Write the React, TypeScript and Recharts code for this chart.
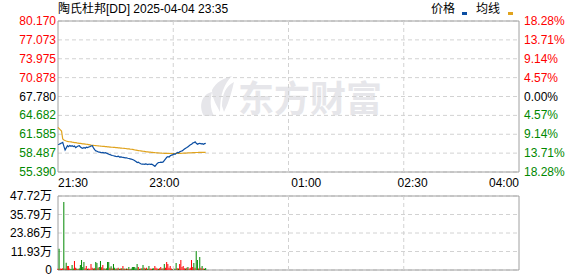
import React from 'react';
import { ComposedChart, Line, Bar, Cell, XAxis, YAxis, CartesianGrid, ReferenceLine, ReferenceArea } from 'recharts';

const stockName = '陶氏杜邦[DD]';
const stamp = '2025-04-04 23:35';
const prevClose = 67.78;

const priceTicks = [55.39, 58.487, 61.585, 64.682, 67.78, 70.878, 73.975, 77.073, 80.17];
const pctTicks = [-18.28, -13.71, -9.14, -4.57, 0, 4.57, 9.14, 13.71, 18.28];
const volTicks = [0, 11.93, 23.86, 35.79, 47.72];
const timeTicks = [0, 90, 210, 300, 390];
const timeLabels = ['21:30', '23:00', '01:00', '02:30', '04:00'];
const gridMinutes = [97.5, 195, 292.5];

// minute prices, 21:30 -> 23:35
const price = [
  59.90, 59.95, 60.05, 60.15, 60.25, 59.60, 59.00, 59.35, 59.70, 59.55,
  59.75, 59.60, 59.70, 59.55, 59.65, 59.40, 59.55, 59.65, 59.70, 59.50,
  59.35, 59.26, 59.40, 59.30, 59.45, 59.40, 59.50, 59.55, 59.65, 59.70,
  59.35, 59.05, 58.86, 58.80, 58.70, 58.65, 58.60, 58.55, 58.62, 58.50,
  58.55, 58.49, 58.40, 58.30, 58.25, 58.16, 58.10, 58.05, 58.00, 57.95,
  57.92, 58.00, 57.85, 57.88, 57.82, 57.80, 57.75, 57.70, 57.72, 57.65,
  57.60, 57.55, 57.50, 57.45, 57.35, 57.25, 57.10, 56.95, 57.00, 56.85,
  56.75, 56.67, 56.70, 56.65, 56.72, 56.67, 56.62, 56.70, 56.65, 56.68,
  56.60, 56.45, 56.30, 56.55, 56.80, 56.95, 56.95, 57.00, 56.98, 57.05,
  57.30, 57.55, 57.80, 57.90, 57.85, 58.05, 58.16, 58.20, 58.35, 58.30,
  58.45, 58.60, 58.55, 58.70, 58.80, 58.86, 59.00, 59.15, 59.30, 59.40,
  59.55, 59.70, 59.85, 59.95, 60.15, 60.20, 60.33, 60.10, 59.95, 60.05,
  60.10, 60.00, 60.05, 59.95, 60.05, 60.10,
];

const avgPrice = [
  62.70, 62.50, 62.30, 62.10, 60.80, 60.65, 60.55, 60.48, 60.42, 60.38,
  60.35, 60.32, 60.28, 60.25, 60.22, 60.20, 60.16, 60.13, 60.10, 60.08,
  60.05, 60.02, 60.00, 59.97, 59.94, 59.91, 59.88, 59.84, 59.80, 59.77,
  59.76, 59.74, 59.72, 59.70, 59.68, 59.66, 59.64, 59.62, 59.60, 59.58,
  59.56, 59.54, 59.52, 59.50, 59.48, 59.46, 59.45, 59.43, 59.42, 59.40,
  59.38, 59.36, 59.34, 59.32, 59.30, 59.29, 59.27, 59.25, 59.22, 59.20,
  59.17, 59.14, 59.12, 59.10, 59.05, 59.00, 58.97, 58.94, 58.91, 58.88,
  58.85, 58.82, 58.79, 58.76, 58.73, 58.70, 58.68, 58.66, 58.64, 58.62,
  58.60, 58.58, 58.56, 58.55, 58.54, 58.52, 58.51, 58.50, 58.48, 58.47,
  58.46, 58.45, 58.45, 58.44, 58.44, 58.43, 58.43, 58.43, 58.43, 58.43,
  58.44, 58.44, 58.45, 58.45, 58.46, 58.47, 58.48, 58.49, 58.50, 58.51,
  58.52, 58.53, 58.54, 58.55, 58.56, 58.57, 58.58, 58.59, 58.59, 58.60,
  58.60, 58.61, 58.61, 58.62, 58.62, 58.63,
];

// volume in 万
const volume = [
  0.8, 13.7, 1.0, 0.8, 1.2, 43.9, 1.0, 4.7, 2.6, 2.6,
  1.0, 0.6, 3.2, 1.0, 5.8, 1.5, 1.0, 0.6, 1.2, 3.2,
  6.4, 2.0, 5.2, 1.2, 2.6, 0.8, 1.0, 0.8, 3.9, 1.5,
  1.0, 1.2, 5.2, 4.5, 1.5, 2.0, 5.8, 1.8, 3.2, 1.2,
  0.8, 1.2, 5.2, 5.2, 1.5, 2.4, 1.0, 3.9, 1.5, 0.8,
  1.2, 1.5, 0.8, 1.0, 1.2, 2.6, 1.0, 0.8, 1.0, 0.8,
  1.9, 0.6, 1.0, 1.9, 1.9, 1.9, 1.2, 3.9, 1.9, 0.8,
  1.0, 1.2, 3.2, 1.5, 1.0, 1.5, 0.8, 2.6, 1.0, 0.8,
  1.0, 1.2, 2.6, 1.5, 1.0, 0.8, 1.2, 1.9, 1.0, 1.2,
  3.9, 1.5, 5.2, 3.9, 1.5, 2.6, 1.0, 0.6, 1.2, 0.8,
  4.5, 1.2, 1.0, 3.9, 6.4, 2.0, 2.6, 1.2, 1.0, 1.5,
  1.9, 1.0, 1.5, 6.4, 2.0, 4.5, 1.5, 12.3, 6.4, 1.0,
  8.4, 1.5, 2.6, 1.0, 0.8, 1.3,
];

// 1 = up (red), 0 = down (green)
const volUp = [
  1, 0, 1, 1, 1, 0, 1, 0, 1, 1,
  1, 0, 0, 0, 1, 1, 0, 1, 0, 0,
  0, 0, 0, 1, 1, 0, 1, 1, 1, 1,
  0, 1, 0, 0, 1, 0, 0, 1, 1, 0,
  1, 0, 0, 0, 1, 0, 1, 0, 0, 1,
  0, 1, 0, 1, 0, 1, 0, 1, 0, 1,
  0, 1, 0, 0, 0, 0, 0, 0, 1, 0,
  1, 0, 0, 1, 0, 1, 0, 0, 1, 1,
  0, 0, 1, 1, 1, 0, 1, 1, 0, 1,
  0, 1, 1, 1, 1, 1, 1, 0, 1, 0,
  0, 1, 0, 1, 1, 1, 1, 1, 0, 1,
  0, 1, 1, 1, 1, 0, 1, 0, 0, 1,
  0, 1, 0, 1, 0, 0,
];

const RED = '#ff0000';
const GREEN = '#008800';
const GRID = '#d2d2d2';
const FRAME = '#a0a0a0';
const font = '"Liberation Sans", Arial, "Noto Sans CJK SC", sans-serif';

const rows = price.map((p, i) => ({
  t: i,
  price: p,
  pct: ((p - prevClose) / prevClose) * 100,
  avg: avgPrice[i],
  vol: volume[i],
  up: volUp[i],
}));

// side axes: ticks above the previous close are red, below green
const midIndex = pctTicks.indexOf(0);
const tickTone = (i: number) => (i > midIndex ? RED : i < midIndex ? GREEN : '#000');
const pctIndex = (v: any) => pctTicks.findIndex((t) => Math.abs(t - Number(v)) < 1e-4);

// left labels sit on the pct scale (same gridlines), showing the matching price
const PriceTick = (props: any) => {
  const { x, y, payload } = props;
  const i = pctIndex(payload.value);
  return (
    <text x={x} y={y} dy={4} textAnchor="end" fill={tickTone(i)} fontSize={12} fontFamily={font}>
      {priceTicks[i].toFixed(3)}
    </text>
  );
};

const PctTick = (props: any) => {
  const { x, y, payload } = props;
  const i = pctIndex(payload.value);
  return (
    <text x={x} y={y} dy={4} textAnchor="start" fill={tickTone(i)} fontSize={12} fontFamily={font}>
      {Math.abs(pctTicks[i]).toFixed(2) + '%'}
    </text>
  );
};

const TimeTick = (props: any) => {
  const { x, y, payload, index } = props;
  const anchor = index === 0 ? 'start' : index === timeTicks.length - 1 ? 'end' : 'middle';
  return (
    <text x={x} y={y} dy={15} textAnchor={anchor} fill="#000" fontSize={12} fontFamily={font}>
      {timeLabels[timeTicks.indexOf(payload.value)]}
    </text>
  );
};

const VolTick = (props: any) => {
  const { x, y, payload } = props;
  return (
    <text x={x} y={y} dy={4} textAnchor="end" fill="#000" fontSize={12} fontFamily={font}>
      {payload.value === 0 ? '0' : Number(payload.value).toFixed(2) + '万'}
    </text>
  );
};

export default function App() {
  return (
    <div style={{ position: 'absolute', left: 0, top: 0, width: 578, height: 276, background: '#fff', overflow: 'hidden' }}>
      {/* watermark */}
      <svg style={{ position: 'absolute', left: 198, top: 76 }} width={40} height={42}>
        <path d="M6 40 C0 30 4 18 14 16 C12 24 12 32 16 40 Z" fill="#e6e6ea" />
        <path d="M14 14 C18 6 26 2 34 0 C26 8 22 18 22 36 C18 28 14 22 14 14 Z" fill="#e6e6ea" />
        <path d="M24 30 C24 18 28 10 36 6 C34 14 32 24 26 36 Z" fill="#e6e6ea" />
      </svg>
      <div style={{ position: 'absolute', left: 238, top: 78, fontSize: 36, lineHeight: '36px', fontWeight: 700, color: '#e6e6ea', fontFamily: '"Noto Sans CJK SC", sans-serif', whiteSpace: 'nowrap' }}>
        东方财富
      </div>

      {/* header */}
      <svg style={{ position: 'absolute', left: 0, top: 0 }} width={578} height={20}>
        <text x={58} y={13} fontSize={12} fontFamily={font} fill="#000">{stockName + ' ' + stamp}</text>
        <text x={431} y={13} fontSize={12} fontFamily={font} fill="#000">价格</text>
        <rect x={462} y={12} width={5} height={3} fill="#0b4ea2" />
        <text x={476} y={13} fontSize={12} fontFamily={font} fill="#000">均线</text>
        <rect x={508} y={12} width={5} height={3} fill="#e0a31e" />
      </svg>

      <div style={{ position: 'absolute', left: 0, top: 0 }}>
        <ComposedChart width={578} height={192} data={rows} margin={{ top: 21, right: 0, bottom: 0, left: 0 }} style={{ overflow: 'visible' }}>
          <CartesianGrid yAxisId="pctL" vertical={false} stroke={GRID} strokeDasharray="4 3" />
          <XAxis dataKey="t" type="number" domain={[0, 390]} ticks={timeTicks} interval={0} height={20}
            axisLine={false} tickLine={false} tickSize={0} tickMargin={0} tick={<TimeTick />} />
          <YAxis yAxisId="price" type="number" domain={[55.39, 80.17]} hide />
          <YAxis yAxisId="pctL" orientation="left" type="number" domain={[-18.28, 18.28]} ticks={pctTicks} interval={0} width={58}
            axisLine={false} tickLine={false} tickSize={2} tickMargin={0} tick={<PriceTick />} />
          <YAxis yAxisId="pct" orientation="right" type="number" domain={[-18.28, 18.28]} ticks={pctTicks} interval={0} width={59}
            axisLine={false} tickLine={false} tickSize={4} tickMargin={1} tick={<PctTick />} />
          {gridMinutes.map((m) => (
            <ReferenceLine key={m} x={m} yAxisId="price" stroke={GRID} strokeDasharray="4 3" />
          ))}
          <ReferenceArea x1={0} x2={390} y1={55.39} y2={80.17} yAxisId="price" fill="none" stroke={FRAME} strokeOpacity={1} />
          <Line yAxisId="pctL" dataKey="pct" stroke="none" dot={false} activeDot={false} legendType="none" isAnimationActive={false} />
          <Line yAxisId="pct" dataKey="pct" stroke="none" dot={false} activeDot={false} legendType="none" isAnimationActive={false} />
          <Line yAxisId="price" dataKey="avg" type="linear" stroke="#e0a31e" strokeWidth={1.2} dot={false} isAnimationActive={false} />
          <Line yAxisId="price" dataKey="price" type="linear" stroke="#0b4ea2" strokeWidth={1.2} dot={false} isAnimationActive={false} />
        </ComposedChart>
      </div>

      <div style={{ position: 'absolute', left: 0, top: 180 }}>
        <ComposedChart width={578} height={96} data={rows} margin={{ top: 16, right: 59, bottom: 6, left: 0 }} style={{ overflow: 'visible' }}>
          <CartesianGrid vertical={false} stroke={GRID} strokeDasharray="4 3" />
          <XAxis dataKey="t" type="number" domain={[0, 390]} hide />
          <YAxis type="number" domain={[0, 47.72]} ticks={volTicks} interval={0} width={58}
            axisLine={false} tickLine={false} tickSize={6} tickMargin={0} tick={<VolTick />} />
          {gridMinutes.map((m) => (
            <ReferenceLine key={m} x={m} stroke={GRID} strokeDasharray="4 3" />
          ))}
          <ReferenceArea x1={0} x2={390} y1={0} y2={47.72} fill="none" stroke={FRAME} strokeOpacity={1} />
          <Bar dataKey="vol" barSize={1} isAnimationActive={false}>
            {rows.map((r) => (
              <Cell key={r.t} fill={r.up ? RED : GREEN} />
            ))}
          </Bar>
        </ComposedChart>
      </div>
    </div>
  );
}
